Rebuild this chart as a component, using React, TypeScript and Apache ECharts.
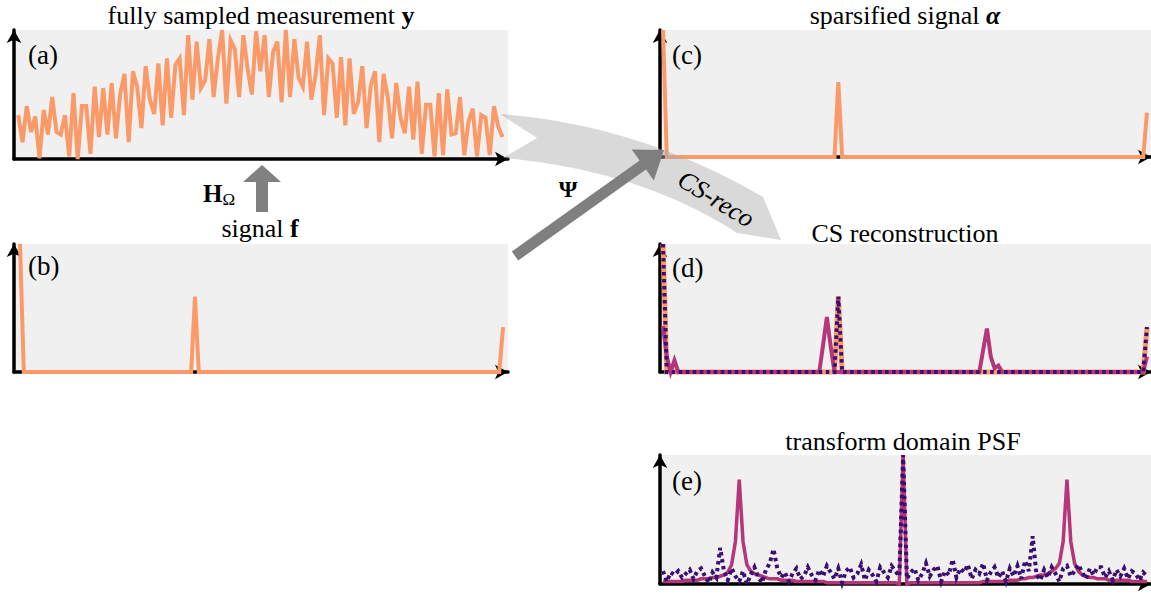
import React, { useEffect, useRef } from 'react';
import * as echarts from 'echarts';

// ---------- data ----------
// (a) fully sampled measurement y (normalised heights)
const measurementY = [
  0.34, 0.13, 0.41, 0.21, 0.33, 0.005, 0.38, 0.19, 0.48, 0.21, 0.19, 0.34, 0.02, 0.51, 0.0, 0.41, 0.41, 0.04,
  0.56, 0.17, 0.55, 0.19, 0.59, 0.16, 0.5, 0.66, 0.13, 0.68, 0.56, 0.24, 0.72, 0.46, 0.35, 0.74, 0.26, 0.78,
  0.32, 0.73, 0.78, 0.34, 0.96, 0.46, 0.91, 0.55, 0.61, 0.93, 0.48, 0.78, 1.0, 0.43, 0.92, 0.85, 0.48, 0.96,
  0.7, 0.5, 0.99, 0.68, 0.96, 0.48, 0.83, 0.91, 0.44, 1.0, 0.48, 0.93, 0.63, 0.56, 0.91, 0.46, 0.65, 0.96,
  0.34, 0.78, 0.74, 0.32,
  0.79, 0.26, 0.78, 0.35, 0.44, 0.72, 0.24, 0.57, 0.68, 0.13, 0.66, 0.48, 0.16, 0.59, 0.32, 0.2, 0.56, 0.15,
  0.6, 0.04, 0.42, 0.42, 0.02, 0.51, 0.03, 0.54, 0.19, 0.2, 0.48, 0.03, 0.29, 0.39, 0.02, 0.34, 0.32, 0.03,
  0.41, 0.25, 0.17,
];

// (b) signal f : [index, value]
const signalF: [number, number][] = [[0, 1], [1, 0], [45, 0], [46, 0.59], [47, 0], [126, 0], [127, 0.35]];
// (c) sparsified signal alpha
const sparseAlpha: [number, number][] = [[0, 1], [1, 0], [45, 0], [46, 0.59], [47, 0], [126, 0], [127, 0.35]];
// (d) CS reconstruction (dotted) and linear reconstruction (solid magenta)
const csReco: [number, number][] = [[0, 1], [1, 0], [45, 0], [46, 0.59], [47, 0], [126, 0], [127, 0.35]];
const linearReco: [number, number][] = [
  [0, 0.36], [1, 0.12], [2, 0], [3, 0.09], [4, 0], [41, 0], [42, 0.21], [43, 0.43], [44, 0.2], [45, 0],
  [83, 0], [84, 0.17], [85, 0.34], [86, 0.12], [87, 0.03], [88, 0.05], [89, 0], [126, 0], [127, 0.12],
];
// (e) transform domain PSF
const psfLinear = [
  0.02, 0.02, 0.02, 0.02, 0.02, 0.02, 0.03, 0.03, 0.03, 0.03,
  0.04, 0.04, 0.04, 0.05, 0.05, 0.06, 0.07, 0.09, 0.15, 0.33,
  0.81,
  0.33, 0.15, 0.1, 0.08, 0.07, 0.06, 0.05, 0.04, 0.04,
  0.04, 0.03, 0.03, 0.03, 0.03, 0.02, 0.02, 0.02, 0.02, 0.02,
  0.02, 0.02, 0.02, 0.01, 0.01, 0.01, 0.01, 0.01, 0.01, 0.01,
  0.01, 0.01, 0.01, 0.01, 0.01, 0.01, 0.01, 0.01, 0.01, 0.01,
  0.01, 0.01, 0.0,
  1.0,
  0.0, 0.01, 0.01, 0.01, 0.01, 0.01,
  0.01, 0.01, 0.01, 0.01, 0.01, 0.01, 0.01, 0.01, 0.01, 0.01,
  0.01, 0.01, 0.01, 0.01, 0.02, 0.02, 0.02, 0.02, 0.02, 0.02,
  0.02, 0.03, 0.03, 0.03, 0.04, 0.04, 0.05, 0.05, 0.06, 0.07,
  0.07, 0.08, 0.1, 0.12, 0.16, 0.33,
  0.81,
  0.33, 0.16, 0.1, 0.07, 0.06, 0.05, 0.05, 0.04, 0.04,
  0.04, 0.03, 0.03, 0.03, 0.03, 0.03, 0.03, 0.02, 0.02, 0.02, 0.02, 0.02,
];
const psfCS = [
  0.1, 0.02, 0.09, 0.07, 0.1, 0.05, 0.08, 0.11, 0.04, 0.1,
  0.12, 0.06, 0.01, 0.09, 0.05, 0.28, 0.1, 0.03, 0.12, 0.06,
  0.02, 0.1, 0.0, 0.07, 0.13, 0.05, 0.01, 0.11, 0.16, 0.27,
  0.12, 0.05, 0.09, 0.02, 0.08, 0.12, 0.04, 0.06, 0.13, 0.07,
  0.03, 0.11, 0.06, 0.14, 0.09, 0.04, 0.12, 0.01, 0.1, 0.13,
  0.05, 0.08, 0.15, 0.03, 0.11, 0.07, 0.02, 0.13, 0.09, 0.05,
  0.14, 0.1, 0.06, 1.0, 0.04, 0.09, 0.12, 0.03, 0.08, 0.16,
  0.06, 0.11, 0.14, 0.02, 0.1, 0.07, 0.19, 0.05, 0.12, 0.09,
  0.15, 0.04, 0.11, 0.08, 0.16, 0.03, 0.09, 0.13, 0.05, 0.1,
  0.02, 0.12, 0.06, 0.14, 0.04, 0.18, 0.1, 0.37, 0.07, 0.03,
  0.11, 0.05, 0.13, 0.08, 0.02, 0.12, 0.14, 0.06, 0.1, 0.15,
  0.09, 0.04, 0.12, 0.07, 0.13, 0.13, 0.05, 0.1, 0.03, 0.11,
  0.06, 0.12, 0.04, 0.1, 0.08, 0.03, 0.09, 0.06,
];

const panelLabels = ['(a)', '(b)', '(c)', '(d)', '(e)'];

// ---------- styles ----------
const ORANGE = '#fb9a69';
const MAGENTA = '#b5367a';
const DARK = '#3b0f70';
const SERIF = 'Liberation Serif';

const grids = [
  { left: 14, top: 30, width: 494, height: 129 },
  { left: 14, top: 244, width: 494, height: 128 },
  { left: 660, top: 30, width: 491, height: 127 },
  { left: 660, top: 244, width: 491, height: 128 },
  { left: 660, top: 455, width: 491, height: 129 },
];
const xRanges = [
  [-1, 115.3],
  [-1.58, 128.3],
  [-0.79, 128.05],
  [-0.79, 128.05],
  [-0.79, 128.05],
];
const labelPos = [
  [28, 55], [28, 266], [672, 55], [672, 268], [672, 481],
];

function toPts(arr: number[]) {
  return arr.map((v, i) => [i, v]);
}

function quad(p0: number[], c: number[], p1: number[], n: number) {
  const out: number[][] = [];
  for (let k = 0; k <= n; k++) {
    const t = k / n;
    const a = (1 - t) * (1 - t), b = 2 * (1 - t) * t, d = t * t;
    out.push([a * p0[0] + b * c[0] + d * p1[0], a * p0[1] + b * c[1] + d * p1[1]]);
  }
  return out;
}

function arrowPoly(t0: number[], tip: number[], shaftHalf: number, headLen: number, headHalf: number) {
  const dx = tip[0] - t0[0], dy = tip[1] - t0[1];
  const len = Math.hypot(dx, dy);
  const u = [dx / len, dy / len];
  const p = [-u[1], u[0]];
  const B = [tip[0] - headLen * u[0], tip[1] - headLen * u[1]];
  const at = (o: number[], s: number) => [o[0] + s * p[0], o[1] + s * p[1]];
  return [at(t0, shaftHalf), at(B, shaftHalf), at(B, headHalf), tip, at(B, -headHalf), at(B, -shaftHalf), at(t0, -shaftHalf)];
}

function lineSeries(data: any, idx: number, color: string, width: number, dashed = false, z = 2) {
  return {
    type: 'line',
    xAxisIndex: idx,
    yAxisIndex: idx,
    data,
    showSymbol: false,
    symbol: 'none',
    clip: false,
    z,
    lineStyle: {
      color,
      width,
      type: dashed ? [3.5, 3.5] : 'solid',
      join: 'miter',
      miterLimit: 10,
      cap: 'butt',
    },
    emphasis: { disabled: true },
  };
}

export default function App() {
  const ref = useRef<HTMLDivElement>(null);
  useEffect(() => {
    if (!ref.current) return;
    const chart = echarts.init(ref.current, null, { renderer: 'svg' });

    const axisLine = {
      show: true,
      onZero: false,
      symbol: ['none', 'arrow'],
      symbolSize: [11, 13],
      lineStyle: { color: '#000', width: 3.5 },
    };

    const band = [
      ...quad([500, 114], [640, 125], [763, 197], 30),
      [781, 240],
      ...quad([737, 233], [640, 170], [503, 158], 30),
      [537, 138],
    ];

    const txt = (x: number, y: number, text: string, rich: any, size = 26, extra: any = {}) => ({
      type: 'text',
      x,
      y,
      z: 200,
      ...extra,
      style: {
        text,
        rich,
        fontFamily: SERIF,
        fontSize: size,
        fill: '#000',
        align: 'center',
        verticalAlign: 'middle',
      },
    });
    const n = { fontFamily: SERIF, fontSize: 26, color: '#000' };
    const b = { fontFamily: SERIF, fontSize: 26, color: '#000', fontWeight: 'bold' };
    const bi = { fontFamily: SERIF, fontSize: 26, color: '#000', fontWeight: 'bold', fontStyle: 'italic' };

    const option: any = {
      animation: false,
      grid: grids.map((g) => ({ ...g, show: true, backgroundColor: '#f0f0f0', borderWidth: 0, containLabel: false })),
      xAxis: grids.map((_, i) => ({
        type: 'value',
        gridIndex: i,
        min: xRanges[i][0],
        max: xRanges[i][1],
        axisLine,
        axisTick: { show: false },
        axisLabel: { show: false },
        splitLine: { show: false },
      })),
      yAxis: grids.map((_, i) => ({
        type: 'value',
        gridIndex: i,
        min: 0,
        max: 1,
        axisLine,
        axisTick: { show: false },
        axisLabel: { show: false },
        splitLine: { show: false },
      })),
      series: [
        lineSeries(toPts(measurementY), 0, ORANGE, 4),
        lineSeries(signalF, 1, ORANGE, 4),
        lineSeries(sparseAlpha, 2, ORANGE, 4),
        lineSeries(sparseAlpha, 3, ORANGE, 5, false, 2),
        lineSeries(linearReco, 3, MAGENTA, 4, false, 3),
        lineSeries(csReco, 3, DARK, 4, true, 4),
        lineSeries(toPts(psfLinear), 4, MAGENTA, 3.5, false, 3),
        lineSeries(toPts(psfCS), 4, DARK, 4, true, 4),
      ],
      graphic: [
        // CS-reco curved band
        { type: 'polygon', z: 100, shape: { points: band }, style: { fill: 'rgba(170,170,170,0.45)' } },
        // Psi arrow
        { type: 'polygon', z: 110, shape: { points: arrowPoly([515, 256], [664, 150], 5.5, 26, 19) }, style: { fill: '#7f7f7f' } },
        // H_Omega arrow
        {
          type: 'polygon', z: 110,
          shape: { points: [[256, 212], [256, 182], [243, 182], [262, 165], [281, 182], [268, 182], [268, 212]] },
          style: { fill: '#808080' },
        },
        // titles
        txt(261, 15, '{n|fully sampled measurement }{b|y}', { n, b }),
        txt(260, 228, '{n|signal }{b|f}', { n, b }),
        txt(905, 15, '{n|sparsified signal }{bi|α}', { n, bi }),
        txt(905, 233, '{n|CS reconstruction}', { n }),
        txt(903, 441, '{n|transform domain PSF}', { n }),
        // operator labels
        txt(219, 193, '{b|H}{s|Ω}', { b: { ...b, fontSize: 25 }, s: { ...n, fontSize: 17, padding: [12, 0, 0, 0] } }),
        txt(568, 189, '{b|Ψ}', { b: { ...b, fontSize: 24 } }),
        txt(716, 199, '{i|CS-reco}', { i: { ...n, fontStyle: 'italic' } }, 26, { rotation: -0.55 }),
        // panel labels
        ...panelLabels.map((l, i) => ({
          type: 'text',
          x: labelPos[i][0],
          y: labelPos[i][1],
          z: 200,
          style: { text: l, fontFamily: SERIF, fontSize: 27, fill: '#000', align: 'left', verticalAlign: 'middle' },
        })),
      ],
    };
    chart.setOption(option);
    return () => chart.dispose();
  }, []);

  return <div ref={ref} style={{ position: 'absolute', left: 0, top: 0, width: 1151, height: 597 }} />;
}
